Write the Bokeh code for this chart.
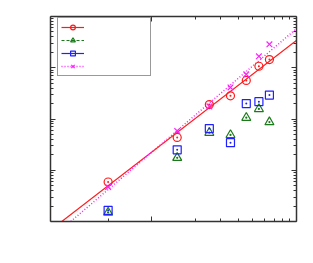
from bokeh.plotting import figure
from bokeh.models import (Range1d, FixedTicker, LogAxis, Legend, LegendItem,
                          CustomJSTickFormatter, ColumnDataSource)
from bokeh.embed import file_html
from bokeh.resources import INLINE

# ---- data ----
x_vals = [0.5, 1.5, 2.5, 3.5, 4.5, 5.5, 6.5]
circle_vals = [5.9, 43.7, 191, 283, 567, 1070, 1445]
triangle_vals = [1.5, 17.5, 54, 49, 106, 157, 87]
square_vals = [1.65, 25, 65, 34.5, 200, 218, 293]
cross_vals = [4.7, 58.6, 176, 414, 743, 1670, 2865]

# power-law fit lines y = a * x**b
red_fit_a, red_fit_b = 22.6, 2.18
mag_fit_a, mag_fit_b = 22.4, 2.414
fit_x = [0.1, 20.0]

x_major_ticks = [1, 10]
x_minor_ticks = [0.5, 2, 3, 4, 5, 6, 7, 8, 9]
y_major_ticks = [1, 10, 100, 1000, 10000]
y_minor_ticks = [k * 10 ** d for d in range(4) for k in range(2, 10)]

RED = "#ff1a1a"
GREEN = "#1a7a1a"
BLUE = "#2020ff"
MAGENTA = "#ff20ff"
AXIS = "#333333"

p = figure(width=305, height=255, x_axis_type="log", y_axis_type="log",
           x_range=Range1d(0.2, 10), y_range=Range1d(1, 1e4),
           output_backend="svg", toolbar_location=None,
           min_border_left=50, min_border_right=9, min_border_top=16,
           min_border_bottom=34)
p.xgrid.visible = False
p.ygrid.visible = False
p.outline_line_color = None

# extra axes on top and right
p.add_layout(LogAxis(), "above")
p.add_layout(LogAxis(), "right")

empty_fmt = CustomJSTickFormatter(code="return ''")
for ax in p.xaxis:
    ax.ticker = FixedTicker(ticks=x_major_ticks, minor_ticks=x_minor_ticks)
for ax in p.yaxis:
    ax.ticker = FixedTicker(ticks=y_major_ticks, minor_ticks=y_minor_ticks)
for ax in p.xaxis + p.yaxis:
    ax.formatter = empty_fmt
    ax.major_label_standoff = 0
    ax.major_label_text_font_size = "1px"
    ax.axis_line_color = AXIS
    ax.axis_line_width = 1.5
    ax.major_tick_line_color = AXIS
    ax.minor_tick_line_color = AXIS
    ax.major_tick_in = 5
    ax.major_tick_out = 0
    ax.minor_tick_in = 3
    ax.minor_tick_out = 0

# fit lines
red_fit_y = [red_fit_a * xv ** red_fit_b for xv in fit_x]
mag_fit_y = [mag_fit_a * xv ** mag_fit_b for xv in fit_x]
nan = float("nan")
r_red_line = p.line(fit_x, red_fit_y, line_color=RED, line_width=1.2)
r_mag_line = p.line(fit_x, mag_fit_y, line_color=MAGENTA, line_width=1.5,
                    line_dash="1 2")
# series 2 and 3 have no visible line in the plot area (legend only)
r_green_line = p.line(x=[nan], y=[nan], line_color=GREEN, line_width=1.2,
                      line_dash="3 2")
r_blue_line = p.line(x=[nan], y=[nan], line_color=BLUE, line_width=1.2)

src = ColumnDataSource(dict(x=x_vals, c=circle_vals, t=triangle_vals,
                            s=square_vals, m=cross_vals))
r_tri = p.scatter("x", "t", source=src, marker="triangle_dot", size=9,
                  line_color=GREEN, fill_color=None, line_width=1.2)
r_sq = p.scatter("x", "s", source=src, marker="square_dot", size=8,
                 line_color=BLUE, fill_color=None, line_width=1.2)
r_circ = p.scatter("x", "c", source=src, marker="circle_dot", size=8,
                   line_color=RED, fill_color=None, line_width=1.2)
r_x = p.scatter("x", "m", source=src, marker="x", size=8,
                line_color=MAGENTA, line_width=1.2)

legend = Legend(items=[
    LegendItem(label="", renderers=[r_red_line, r_circ]),
    LegendItem(label="", renderers=[r_green_line, r_tri]),
    LegendItem(label="", renderers=[r_blue_line, r_sq]),
    LegendItem(label="", renderers=[r_mag_line, r_x]),
], location=(7, 145), glyph_width=23, glyph_height=12, spacing=1, padding=3,
    label_width=58, label_height=12, label_standoff=5,
    label_text_font_size="8px", border_line_color=AXIS, border_line_width=1,
    background_fill_alpha=1.0)
p.add_layout(legend)

open("out.html", "w").write(file_html(p, INLINE))
